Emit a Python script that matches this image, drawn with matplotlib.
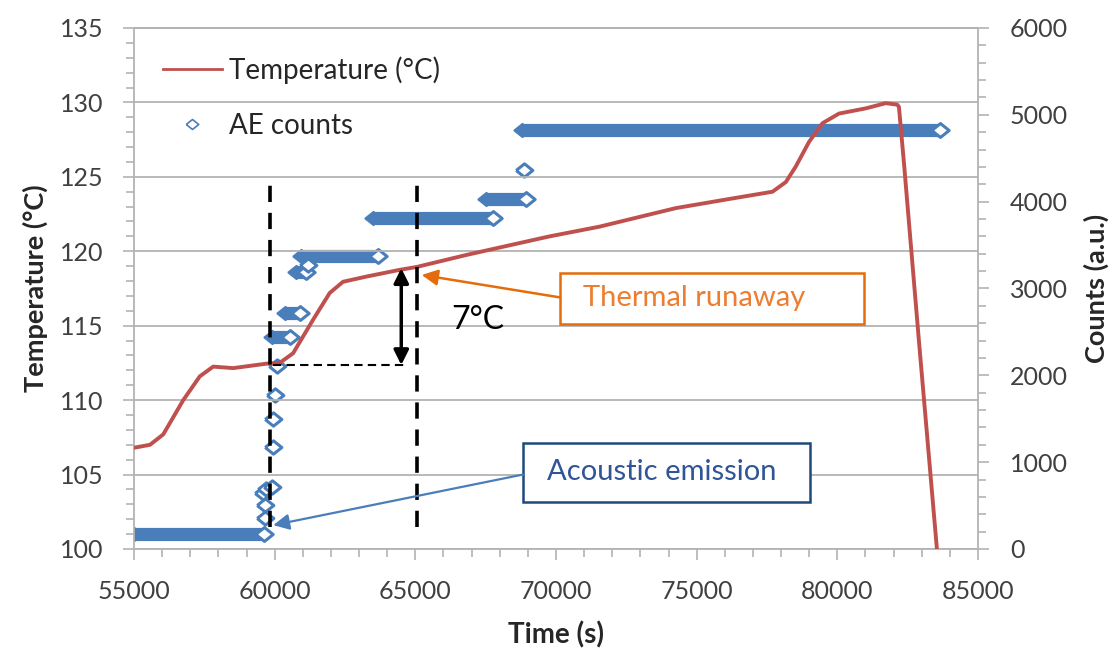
import matplotlib

matplotlib.use("Agg")
import matplotlib.pyplot as plt
from matplotlib.lines import Line2D
from matplotlib.patches import Rectangle
from matplotlib.ticker import MultipleLocator

plt.rcParams["font.family"] = ["Lato", "DejaVu Sans"]

# Temperature trace (s, degC)
temp_time = [55000, 55570, 56040, 56750, 57340, 57815, 58525, 59710, 60180,
             60655, 61365, 61957, 62430, 63260, 64440, 65057, 66810, 67990,
             69770, 71540, 74260, 76275, 77695, 78170, 78525, 78995, 79470,
             80060, 81010, 81720, 82130, 82190, 82370, 82900, 83540]
temp_vals = [106.8, 107.0, 107.7, 110.0, 111.6, 112.25, 112.15, 112.45, 112.5,
             113.15, 115.4, 117.2, 117.95, 118.3, 118.75, 118.95, 119.75, 120.25,
             121.0, 121.65, 122.9, 123.55, 124.0, 124.65, 125.7, 127.35, 128.6,
             129.25, 129.6, 129.95, 129.85, 129.7, 125.9, 114.0, 100.0]

# AE counts: plateaus (start, end, level) and isolated hits
ae_start = [55000, 59890, 60360, 60775, 60950, 63495, 67520, 68800]
ae_end = [59626, 60540, 60890, 61130, 63670, 67755, 68940, 83650]
ae_level = [170, 2446, 2715, 3195, 3375, 3810, 4028, 4826]
ae_pts_t = [59650, 59650, 59590, 59700, 59890, 59946, 59946, 60005, 60065, 61190, 68880]
ae_pts_c = [354, 507, 642, 690, 718, 1178, 1494, 1774, 2108, 3272, 4366]

# annotation anchors
t_onset, t_runaway = 59850, 65050
temp_onset, temp_runaway = 112.36, 118.86

RED = "#C0504D"
BLUE = "#4A7EBB"
ORANGE = "#E46C0A"
ORANGE_TXT = "#ED7D31"
NAVY = "#1F497D"
NAVY_TXT = "#2F5597"
GRID = "#B3B3B3"
TXT = "#404040"
DIAMOND = [(-1, 0), (0, 0.8), (1, 0), (0, -0.8), (-1, 0)]

fig = plt.figure(figsize=(11.14, 6.54), dpi=100)
ax = fig.add_axes([0.1203, 0.1606, 0.7576, 0.7966])
ax2 = ax.twinx()
ax.set_zorder(ax2.get_zorder() + 1)
ax.patch.set_visible(False)

# AE counts on the right axis
for t0, t1, c in zip(ae_start, ae_end, ae_level):
    ax2.plot([t0, t1], [c, c], color=BLUE, lw=9.5, solid_capstyle="butt")
    ax2.plot([t0], [c], ls="none", marker=DIAMOND, ms=12.5, color=BLUE)
    ax2.plot([t1], [c], ls="none", marker=DIAMOND, ms=12.5, mfc="white",
             mec=BLUE, mew=2.2)
ax2.plot(ae_pts_t, ae_pts_c, ls="none", marker=DIAMOND, ms=12, mfc="white",
         mec=BLUE, mew=2.2)

# temperature on the left axis
ax.plot(temp_time, temp_vals, color=RED, lw=2.8, zorder=3)

ax.set_xlim(55000, 85000)
ax.set_ylim(100, 135)
ax2.set_ylim(0, 6000)
ax.xaxis.set_major_locator(MultipleLocator(5000))
ax.xaxis.set_minor_locator(MultipleLocator(1000))
ax.yaxis.set_major_locator(MultipleLocator(5))
ax.yaxis.set_minor_locator(MultipleLocator(1))
ax2.yaxis.set_major_locator(MultipleLocator(1000))
ax2.yaxis.set_minor_locator(MultipleLocator(200))
ax.grid(axis="y", which="major", color=GRID, lw=1.3)

for a in (ax, ax2):
    a.tick_params(which="both", direction="out", color=GRID, width=1.2,
                  labelcolor=TXT, labelsize=18)
    a.tick_params(which="major", length=8)
    a.tick_params(which="minor", length=6)
    for s in a.spines.values():
        s.set_color(GRID)
        s.set_linewidth(1.3)
ax.tick_params(axis="y", pad=14)
ax.tick_params(axis="x", pad=14)
ax2.tick_params(axis="y", pad=15)
ax.spines["right"].set_visible(False)
ax2.spines["left"].set_visible(False)
ax2.spines["bottom"].set_visible(False)

ax.set_xlabel("Time (s)", fontsize=20, fontweight="bold", color="#262626")
ax.xaxis.set_label_coords(0.5, -0.138)
ax.set_ylabel("Temperature (°C)", fontsize=19.5, fontweight="bold", color="#262626")
ax.yaxis.set_label_coords(-0.102, 0.5)
ax2.set_ylabel("Counts (a.u.)", fontsize=19.5, fontweight="bold", color="#262626")
ax2.yaxis.set_label_coords(1.125, 0.5)

# dashed markers for onset and runaway
for t in (t_onset, t_runaway):
    ax.plot([t, t], [101.5, 125.0], color="black", lw=2.6, ls=(0, (4.5, 3)), zorder=4)
ax.plot([t_onset + 95, 64680], [temp_onset, temp_onset], color="black", lw=1.5,
        ls=(0, (4, 2.5)), zorder=4)
ax.annotate("", xy=(64500, temp_runaway), xytext=(64500, temp_onset),
            arrowprops=dict(arrowstyle="<|-|>", color="black", lw=2.5,
                            mutation_scale=22, shrinkA=0, shrinkB=0), zorder=4)
ax.text(67230, 115.38, "7°C", fontsize=23, ha="center", va="center", color="black")

# callout boxes
ax.add_patch(Rectangle((70142, 115.09), 80948 - 70142, 118.56 - 115.09,
                       facecolor="white", edgecolor=ORANGE, lw=1.8, zorder=5))
ax.text(70960, 116.83, "Thermal runaway", color=ORANGE_TXT, fontsize=21,
        ha="left", va="center", zorder=6)
ax.annotate("", xy=(65226, 118.41), xytext=(70142, 116.9),
            arrowprops=dict(arrowstyle="-|>", color=ORANGE, lw=1.8,
                            mutation_scale=24, shrinkA=0, shrinkB=0), zorder=5)

ax.add_patch(Rectangle((68826, 103.18), 79028 - 68826, 107.14 - 103.18,
                       facecolor="white", edgecolor=NAVY, lw=1.8, zorder=5))
ax.text(69680, 105.17, "Acoustic emission", color=NAVY_TXT, fontsize=21,
        ha="left", va="center", zorder=6)
ax.annotate("", xy=(59950, 101.6), xytext=(68826, 105.0),
            arrowprops=dict(arrowstyle="-|>", color=BLUE, lw=1.6,
                            mutation_scale=24, shrinkA=0, shrinkB=0), zorder=5)

handles = [
    Line2D([], [], color=RED, lw=2),
    Line2D([], [], ls="none", marker=DIAMOND, ms=9, mfc="white", mec=BLUE, mew=1.2),
]
ax.legend(handles, ["Temperature (°C)", "AE counts"], loc="upper left",
          bbox_to_anchor=(163 / 1114, 1 - 56 / 654), bbox_transform=fig.transFigure,
          frameon=False, fontsize=20, handlelength=2.12, handletextpad=0.25,
          labelspacing=1.05, borderpad=0, borderaxespad=0, numpoints=1,
          labelcolor="#262626")

fig.savefig("out.png", dpi=100, facecolor="white")
